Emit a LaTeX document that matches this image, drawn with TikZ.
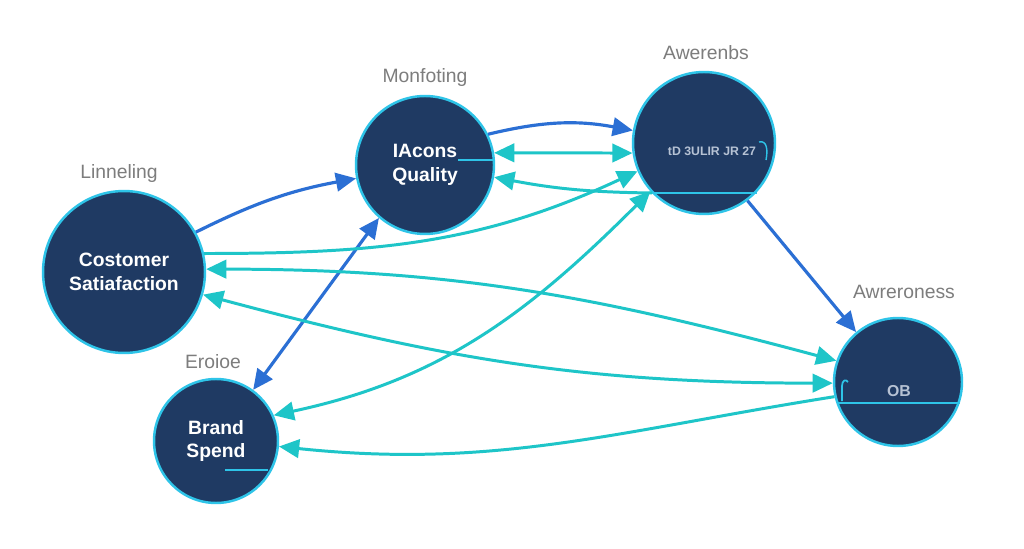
\documentclass[tikz,border=0pt]{standalone}
\usepackage{fontspec}
\setmainfont{Liberation Sans}
\usetikzlibrary{arrows.meta}
\definecolor{navy}{RGB}{31,58,99}
\definecolor{rim}{RGB}{46,196,232}
\definecolor{linkblue}{RGB}{43,111,212}
\definecolor{linkcyan}{RGB}{30,197,200}
\definecolor{tagcolor}{RGB}{125,125,125}
\definecolor{faint}{RGB}{182,194,212}
\tikzset{
	factor/.style={circle, fill=navy, draw=rim, line width=1.4pt, text=white, align=center, inner sep=0pt, font=\fontsize{11}{13.5}\selectfont\bfseries},
	tagtext/.style={text=tagcolor, inner sep=1pt, font=\fontsize{11}{13}\selectfont},
	blue link/.style={draw=linkblue, line width=1.8pt, -{Triangle[length=11.5pt,width=10.5pt]}},
	cyan link/.style={draw=linkcyan, line width=1.7pt, -{Triangle[length=11.5pt,width=10.5pt]}},
	twoway/.style={{Triangle[length=11.5pt,width=10.5pt]}-{Triangle[length=11.5pt,width=10.5pt]}},
	inner line/.style={draw=rim, line width=1pt},
}
\begin{document}
\begin{tikzpicture}[x=0.02cm, y=0.02cm]
			\path[use as bounding box, fill=white] (0,0) rectangle (1024,548);
			\node[factor, minimum size=3.24cm] (cs) at (124,276) {Costomer\\Satiafaction};
			\node[factor, minimum size=2.76cm] (q) at (425,383) {IAcons\\Quality};
			\node[factor, minimum size=2.84cm] (a1) at (704,405) {};
			\node[factor, minimum size=2.56cm] (a2) at (898,166) {};
			\node[factor, minimum size=2.48cm] (b) at (216,107) {Brand\\Spend};
			\node[tagtext] (cstag) at (119,374) {Linneling};
			\node[tagtext] (qtag) at (425,470) {Monfoting};
			\node[tagtext] (a1tag) at (706,495) {Awerenbs};
			\node[tagtext] (a2tag) at (904,256) {Awreroness};
			\node[tagtext] (btag) at (213,186) {Eroioe};
			\node[text=faint, inner sep=0pt, font=\fontsize{7}{8}\selectfont\bfseries] (a1text) at (712,397) {tD 3ULIR JR 27};
			\node[text=faint, inner sep=0pt, font=\fontsize{9}{10}\selectfont\bfseries] (a2text) at (899,157) {OB};
			\coordinate (a1l) at (652,355);
			\draw[inner line] (458,388) -- (493,388);
			\draw[inner line] (a1l) -- (757,355);
			\draw[inner line] (837,145) -- (960,145);
			\draw[inner line] (225,78) -- (268,78);
			\draw[inner line, line width=0.8pt] (759,406) .. controls (767,408) and (768,398) .. (766,388);
			\draw[inner line] (842,147) -- (842,162) .. controls (842,168) and (846,169) .. (848,166);
			\draw[blue link] (cs.29) to[bend left=8] (q.191);
			\draw[blue link] (q.26) to[bend left=12] (a1.170);
			\draw[blue link, twoway] (q.229) -- (b.54);
			\draw[blue link] (a1.-53) -- (a2.130);
			\draw[cyan link, twoway] (q.10) -- (a1.188);
			\draw[cyan link] (a1l) to[bend left=5] (q.-10);
			\draw[cyan link] (cs.13) to[out=0, in=205] (a1.203);
			\draw[cyan link, twoway] (b.24) to[out=12, in=225] (a1.222);
			\draw[cyan link, twoway] (cs.2) to[out=0, in=165] (a2.161);
			\draw[cyan link, twoway] (cs.-16) to[out=-15, in=180] (a2.181);
			\draw[cyan link] (a2.193) to[out=189, in=-6] (b.-5);
\end{tikzpicture}
\end{document}
